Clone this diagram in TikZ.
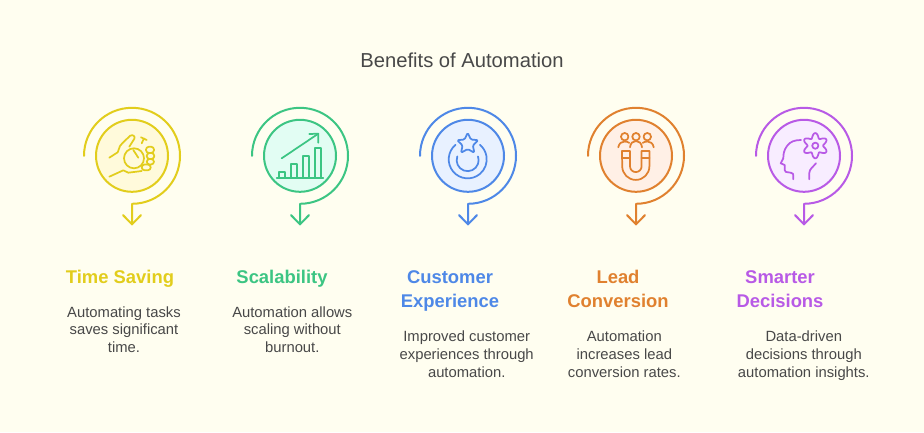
\documentclass[tikz,border=0pt]{standalone}
\usepackage{fontspec}
\setmainfont{Liberation Sans}
\definecolor{bgc}{HTML}{FFFEF0}
\definecolor{txtc}{HTML}{484848}
\definecolor{yel}{HTML}{E2CD1C}\definecolor{yelf}{HTML}{FFFADB}
\definecolor{grn}{HTML}{3CC583}\definecolor{grnf}{HTML}{E2FDF3}
\definecolor{blu}{HTML}{4E88E7}\definecolor{bluf}{HTML}{E8F1FF}
\definecolor{org}{HTML}{E0812F}\definecolor{orgf}{HTML}{FFF0E6}
\definecolor{pur}{HTML}{B85AE6}\definecolor{purf}{HTML}{F8EDFF}
\newcommand{\spiral}[4]{%
 \begin{scope}[shift={(#1,155.8)}]
  \coordinate (#2-start) at (-48,0);
  \coordinate (#2-end) at (0,68.5);
  \coordinate (#2-hl) at (-9,59.3);
  \coordinate (#2-hr) at (9,59.3);
  \node[disc, draw=#3, fill=#4] (#2-disc) at (0,0) {};
  \draw[ln, #3] (#2-start) arc[start angle=180, end angle=-90, radius=36pt] -- (#2-end);
  \draw[ln, #3] (#2-hl) -- (#2-end) -- (#2-hr);
 \end{scope}}
\tikzset{
 x=0.75pt,y=-0.75pt,
 disc/.style={circle,minimum size=54pt,inner sep=0pt,outer sep=0pt,line width=1.5pt},
 ln/.style={line width=1.5pt,line cap=round,line join=round},
 ic/.style={line width=1.3pt,line cap=round,line join=round},
 title/.style={font=\fontsize{15.15}{18}\selectfont,text=txtc,inner sep=0pt},
 head/.style={font=\fontsize{13.8}{18}\selectfont\bfseries,inner sep=0pt,align=center,anchor=base},
 body/.style={font=\fontsize{11.1}{13.3}\selectfont,text=txtc,inner sep=0pt,align=center,anchor=base},
}
\begin{document}
\begin{tikzpicture}
\useasboundingbox (0,0) rectangle (924,432);
\fill[bgc] (0,0) rectangle (924,432);
\node[title] (ttl) at (462,60) {Benefits of Automation};
\spiral{132}{a}{yel}{yelf}
\spiral{300}{b}{grn}{grnf}
\spiral{468}{c}{blu}{bluf}
\spiral{636}{d}{org}{orgf}
\spiral{804}{e}{pur}{purf}
% icon 1: hand and stopwatch
\begin{scope}[ic,yel]
 \draw (109.3,157.7) -- (117.7,152.3) -- (120,146) .. controls (123,142) and (127,139) .. (130,135.8) .. controls (133,134) and (135.5,136.5) .. (134.3,138.8) -- (129.3,146.7);
 \draw (134,158.3) circle[radius=7.5pt];
 \draw (133.3,150) -- (138.3,157.7);
 \draw (141.7,143.3) -- (144,138.3) (141,137.3) -- (146.7,140);
 \draw[rounded corners=2.2pt] (146,146.7) rectangle (154,153);
 \draw[rounded corners=2.2pt] (146.7,153) rectangle (154.3,159);
 \draw[rounded corners=2.2pt] (146.7,159) rectangle (154,164.5);
 \draw[rounded corners=2.2pt] (141.7,164.5) rectangle (150.7,170.3);
 \draw (109.3,176.7) -- (123.3,170.3) -- (128.3,172.7) -- (141.7,171);
\end{scope}
% icon 2: bars and arrow
\begin{scope}[ic,grn]
 \draw (276.7,178.3) -- (323.3,178.3);
 \draw (278.7,178) -- (278.7,172.3) -- (285,172.3) -- (285,178);
 \draw (290.7,178) -- (290.7,164.3) -- (297.3,164.3) -- (297.3,178);
 \draw (302.7,178) -- (302.7,156.3) -- (309,156.3) -- (309,178);
 \draw (315,178) -- (315,148.3) -- (321,148.3) -- (321,178);
 \draw (281.7,158.3) -- (318.3,133.7);
 \draw (309.3,134) -- (318.3,133.7) -- (318.3,142.7);
\end{scope}
% icon 3: star in rings
\begin{scope}[ic,blu]
 \draw[rounded corners=1pt] (467.7,132.7) -- (470.8,139.5) -- (478.3,140.2) -- (472.8,145.4) -- (474.4,152.8) -- (467.7,149) -- (461,152.8) -- (462.6,145.4) -- (457.1,140.2) -- (464.6,139.5) -- cycle;
 \draw (455.5,144.8) arc[start angle=130, end angle=410, radius=14.25pt];
 \draw (457.3,156.4) arc[start angle=160, end angle=380, radius=8.25pt];
\end{scope}
% icon 4: people and magnet
\begin{scope}[ic,org]
 \foreach \hx in {624.7,636,647.3} \draw (\hx,136.7) circle[radius=2.8pt];
 \draw (618.3,147.3) .. controls (619,143) and (622,141.5) .. (624.5,141.5) .. controls (626.5,141.5) and (628,142) .. (629.3,142.9);
 \draw (653.7,147.3) .. controls (653,143) and (650,141.5) .. (647.5,141.5) .. controls (645.5,141.5) and (644,142) .. (642.7,142.9);
 \draw (630,147.3) .. controls (630.5,143) and (633,141) .. (636,141) .. controls (639,141) and (641.5,143) .. (642,147.3);
 \draw (622,151) -- (630,151) -- (630,166.3) arc[start angle=180, end angle=360, radius=4.35pt] -- (641.6,151) -- (649.4,151) -- (649.4,166.3) arc[start angle=0, end angle=-180, radius=10.2pt] -- cycle;
 \draw (622,158.3) -- (630,158.3) (641.6,158.3) -- (649.4,158.3);
\end{scope}
% icon 5: head and gear
\begin{scope}[ic,pur]
 \draw (801,140) .. controls (795,140) and (790,141.5) .. (787,146) .. controls (784,150) and (783.3,154) .. (783.3,158.3) -- (780.7,163.3) -- (784.7,165) -- (784.7,170) .. controls (785,172) and (786,172.3) .. (788.3,172.3) -- (791,172.8) .. controls (793,173.2) and (793.3,174) .. (793.3,175.5) -- (793.3,179.3);
 \draw (816,163.3) .. controls (813.5,166.5) and (809.3,169) .. (809.3,173) -- (809.3,179.3);
 \draw (815.3,145.7) circle[radius=2.3pt];
 \draw plot[domain=0:360,samples=145,smooth] ({815.3+(10.2-2.4*cos(6*\x))*cos(\x)},{145.7+(10.2-2.4*cos(6*\x))*sin(\x)}) -- cycle;
\end{scope}
\node[head,text=yel] (h1) at (120,283.3) {Time Saving};
\node[head,text=grn] (h2) at (282,283.3) {Scalability};
\node[head,text=blu] (h3) at (450,307.3) {Customer\\Experience};
\node[head,text=org] (h4) at (618,307.3) {Lead\\Conversion};
\node[head,text=pur] (h5) at (780,307.3) {Smarter\\Decisions};
\node[body] (b1) at (124,352.7) {Automating tasks\\saves significant\\time.};
\node[body] (b2) at (292.3,352.7) {Automation allows\\scaling without\\burnout.};
\node[body] (b3) at (466.7,377) {Improved customer\\experiences through\\automation.};
\node[body] (b4) at (624.3,377) {Automation\\increases lead\\conversion rates.};
\node[body] (b5) at (803.8,377) {Data-driven\\decisions through\\automation insights.};
\end{tikzpicture}
\end{document}
